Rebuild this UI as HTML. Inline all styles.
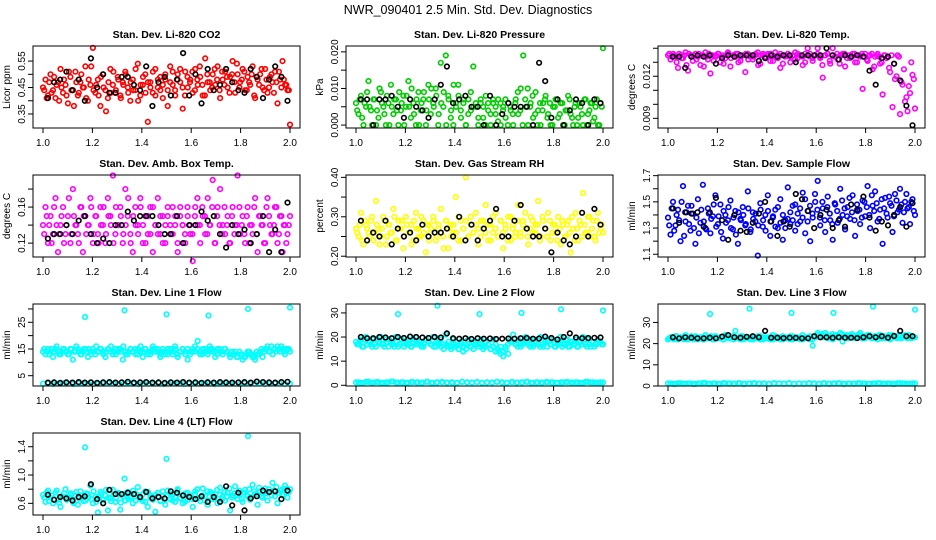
<!DOCTYPE html>
<html><head><meta charset="utf-8">
<style>
html,body{margin:0;padding:0;background:#fff;}
svg{display:block;font-family:"Liberation Sans",sans-serif;}
</style></head>
<body>
<svg id="chart" width="936" height="540" viewBox="0 0 936 540" xmlns="http://www.w3.org/2000/svg">
<rect x="0" y="0" width="936" height="540" fill="#fff"/>
<text x="468" y="14" text-anchor="middle" font-size="12.5">NWR_090401  2.5 Min. Std. Dev. Diagnostics</text>
</svg>
<script>
// ---------- data ----------
const xTicks=[1.0,1.2,1.4,1.6,1.8,2.0];
const xTickLabels=["1.0","1.2","1.4","1.6","1.8","2.0"];

const co2Red=[0.45,0.48,0.42,0.50,0.44,0.41,0.47,0.52,0.43,0.46,0.39,0.49,0.44,0.51,0.42,0.47,0.45,0.53,0.40,0.46,0.60,0.43,0.48,0.38,0.50,0.44,0.41,0.52,0.46,0.43,0.49,0.42,0.47,0.51,0.45,0.40,0.48,0.44,0.54,0.42,0.46,0.50,0.32,0.47,0.43,0.52,0.45,0.49,0.41,0.48,0.44,0.53,0.46,0.42,0.50,0.47,0.37,0.51,0.45,0.48,0.43,0.52,0.46,0.49,0.42,0.56,0.47,0.44,0.50,0.46,0.53,0.41,0.48,0.51,0.45,0.49,0.55,0.43,0.50,0.47,0.52,0.44,0.49,0.46,0.53,0.41,0.48,0.50,0.45,0.52,0.43,0.49,0.47,0.51,0.39,0.48,0.55,0.46,0.44,0.31];
const co2Red2=[0.44,0.41,0.47,0.43,0.49,0.46,0.40,0.45,0.48,0.42,0.51,0.44,0.38,0.47,0.43,0.50,0.45,0.41,0.48,0.53,0.44,0.46,0.42,0.49,0.45,0.36,0.47,0.43,0.51,0.44,0.48,0.41,0.46,0.50,0.43,0.47,0.44,0.52,0.40,0.46,0.49,0.43,0.47,0.45,0.51,0.42,0.48,0.44,0.46,0.50,0.38,0.47,0.51,0.44,0.48,0.52,0.45,0.42,0.49,0.47,0.51,0.44,0.48,0.53,0.46,0.42,0.50,0.47,0.45,0.52,0.48,0.44,0.51,0.46,0.49,0.43,0.50,0.47,0.54,0.45,0.48,0.51,0.44,0.47,0.50,0.42,0.49,0.46,0.52,0.44,0.48,0.45,0.50,0.43,0.47,0.51,0.45,0.48,0.46,0.44];
const co2Black=[0.41,0.47,0.48,0.51,0.44,0.48,0.40,0.56,0.45,0.50,0.43,0.43,0.49,0.49,0.46,0.44,0.53,0.38,0.47,0.49,0.42,0.48,0.58,0.42,0.50,0.39,0.52,0.44,0.46,0.52,0.47,0.44,0.43,0.52,0.49,0.41,0.48,0.53,0.49,0.40];

const presGreen=[0.006,0.003,0.008,0.000,0.005,0.012,0.004,0.007,0.000,0.002,0.009,0.005,0.000,0.006,0.011,0.003,0.007,0.000,0.004,0.008,0.005,0.012,0.002,0.006,0.000,0.009,0.004,0.007,0.000,0.011,0.003,0.006,0.010,0.000,0.017,0.005,0.019,0.008,0.002,0.000,0.006,0.011,0.004,0.007,0.000,0.003,0.009,0.016,0.005,0.000,0.006,0.002,0.008,0.004,0.000,0.006,0.003,0.007,0.000,0.005,0.002,0.006,0.004,0.000,0.007,0.003,0.010,0.019,0.005,0.000,0.006,0.002,0.009,0.004,0.000,0.006,0.008,0.003,0.000,0.005,0.007,0.002,0.006,0.000,0.004,0.008,0.003,0.000,0.006,0.002,0.005,0.000,0.007,0.003,0.006,0.001,0.005,0.000,0.006,0.021];
const presGreen2=[0.004,0.007,0.002,0.006,0.009,0.005,0.000,0.007,0.004,0.010,0.006,0.003,0.008,0.000,0.005,0.007,0.004,0.009,0.006,0.000,0.008,0.005,0.010,0.003,0.007,0.000,0.006,0.009,0.004,0.007,0.010,0.005,0.008,0.003,0.006,0.009,0.000,0.007,0.004,0.011,0.005,0.008,0.002,0.006,0.000,0.007,0.004,0.005,0.006,0.002,0.007,0.005,0.000,0.006,0.003,0.007,0.005,0.001,0.006,0.004,0.007,0.000,0.005,0.003,0.006,0.009,0.004,0.000,0.007,0.010,0.005,0.008,0.003,0.000,0.006,0.004,0.007,0.002,0.006,0.000,0.005,0.007,0.003,0.006,0.000,0.004,0.007,0.002,0.005,0.000,0.006,0.003,0.007,0.000,0.004,0.006,0.002,0.007,0.000,0.005];
const presBlack=[0.007,0.007,0.000,0.007,0.007,0.008,0.005,0.002,0.007,0.005,0.004,0.002,0.007,0.011,0.016,0.006,0.007,0.008,0.005,0.005,0.000,0.008,0.000,0.003,0.006,0.005,0.005,0.005,0.000,0.017,0.012,0.002,0.007,0.000,0.004,0.007,0.006,0.000,0.007,0.006];

const tempMagenta=[0.0135,0.0132,0.0136,0.0134,0.0126,0.0135,0.0133,0.0137,0.0124,0.0135,0.0131,0.0136,0.0134,0.0128,0.0135,0.0137,0.0132,0.0122,0.0135,0.0134,0.0136,0.0130,0.0135,0.0133,0.0137,0.0127,0.0135,0.0134,0.0136,0.0131,0.0135,0.0123,0.0136,0.0134,0.0132,0.0135,0.0137,0.0129,0.0135,0.0134,0.0136,0.0131,0.0135,0.0137,0.0133,0.0126,0.0135,0.0134,0.0136,0.0130,0.0135,0.0137,0.0133,0.0135,0.0128,0.0136,0.0140,0.0134,0.0131,0.0135,0.0140,0.0133,0.0119,0.0135,0.0136,0.0129,0.0140,0.0134,0.0132,0.0135,0.0136,0.0127,0.0135,0.0133,0.0136,0.0130,0.0135,0.0134,0.0111,0.0136,0.0131,0.0135,0.0125,0.0134,0.0136,0.0129,0.0107,0.0135,0.0134,0.0123,0.0098,0.0118,0.0135,0.0093,0.0114,0.0102,0.0095,0.0108,0.0121,0.0097];
const tempMagenta2=[0.0136,0.0134,0.0135,0.0130,0.0136,0.0133,0.0135,0.0128,0.0136,0.0134,0.0135,0.0132,0.0136,0.0135,0.0127,0.0134,0.0136,0.0135,0.0131,0.0135,0.0136,0.0134,0.0129,0.0135,0.0136,0.0133,0.0135,0.0136,0.0130,0.0134,0.0135,0.0136,0.0132,0.0135,0.0134,0.0136,0.0128,0.0135,0.0136,0.0133,0.0135,0.0136,0.0131,0.0134,0.0135,0.0136,0.0129,0.0135,0.0136,0.0134,0.0135,0.0132,0.0136,0.0135,0.0134,0.0130,0.0135,0.0136,0.0133,0.0135,0.0136,0.0134,0.0128,0.0135,0.0136,0.0131,0.0135,0.0134,0.0136,0.0129,0.0135,0.0136,0.0133,0.0135,0.0134,0.0136,0.0130,0.0135,0.0136,0.0134,0.0132,0.0135,0.0136,0.0127,0.0135,0.0134,0.0130,0.0135,0.0133,0.0126,0.0135,0.0129,0.0120,0.0134,0.0116,0.0125,0.0105,0.0113,0.0130,0.0118];
const tempBlack=[0.0134,0.0134,0.0126,0.0134,0.0135,0.0134,0.0135,0.0129,0.0133,0.0135,0.0134,0.0135,0.0135,0.0135,0.0131,0.0133,0.0135,0.0134,0.0135,0.0135,0.0130,0.0135,0.0135,0.0135,0.0135,0.0140,0.0135,0.0132,0.0135,0.0134,0.0135,0.0134,0.0124,0.0114,0.0133,0.0134,0.0129,0.0117,0.0099,0.0085];

const ambMagenta=[0.14,0.16,0.12,0.15,0.13,0.17,0.11,0.14,0.16,0.13,0.15,0.12,0.18,0.14,0.13,0.16,0.11,0.15,0.14,0.17,0.12,0.15,0.13,0.16,0.14,0.12,0.17,0.15,0.195,0.13,0.14,0.16,0.12,0.18,0.15,0.13,0.11,0.16,0.14,0.17,0.12,0.15,0.13,0.16,0.11,0.14,0.17,0.13,0.15,0.12,0.16,0.14,0.13,0.15,0.11,0.16,0.14,0.12,0.15,0.13,0.10,0.16,0.14,0.12,0.15,0.13,0.17,0.14,0.19,0.12,0.16,0.18,0.14,0.13,0.15,0.12,0.16,0.14,0.195,0.13,0.15,0.12,0.16,0.14,0.13,0.17,0.11,0.15,0.14,0.12,0.17,0.14,0.13,0.16,0.12,0.15,0.11,0.14,0.13,0.15];
const ambMagenta2=[0.13,0.15,0.14,0.12,0.16,0.14,0.13,0.15,0.12,0.14,0.17,0.13,0.15,0.14,0.12,0.16,0.15,0.13,0.14,0.16,0.13,0.15,0.12,0.14,0.16,0.13,0.15,0.14,0.12,0.16,0.14,0.15,0.13,0.14,0.17,0.12,0.15,0.14,0.13,0.16,0.14,0.12,0.15,0.13,0.16,0.14,0.13,0.15,0.12,0.14,0.15,0.13,0.16,0.14,0.12,0.15,0.14,0.13,0.16,0.14,0.13,0.15,0.17,0.14,0.16,0.15,0.13,0.14,0.16,0.12,0.15,0.14,0.13,0.16,0.14,0.12,0.15,0.13,0.14,0.16,0.14,0.13,0.15,0.12,0.14,0.16,0.13,0.15,0.14,0.12,0.16,0.15,0.13,0.14,0.16,0.13,0.15,0.14,0.12,0.14];
const ambBlack=[0.125,0.13,0.13,0.14,0.13,0.145,0.15,0.13,0.12,0.125,0.12,0.14,0.14,0.155,0.145,0.15,0.15,0.15,0.14,0.13,0.13,0.15,0.12,0.14,0.14,0.155,0.145,0.15,0.13,0.115,0.14,0.13,0.135,0.12,0.13,0.15,0.11,0.135,0.11,0.165];

const rhYellow=[0.27,0.25,0.31,0.23,0.28,0.26,0.29,0.24,0.34,0.27,0.25,0.30,0.23,0.28,0.26,0.32,0.24,0.29,0.27,0.22,0.30,0.26,0.28,0.24,0.31,0.27,0.25,0.29,0.21,0.28,0.26,0.30,0.24,0.27,0.32,0.25,0.29,0.22,0.28,0.26,0.35,0.24,0.29,0.27,0.40,0.25,0.30,0.26,0.28,0.23,0.29,0.27,0.33,0.24,0.28,0.26,0.31,0.25,0.29,0.22,0.27,0.30,0.24,0.28,0.26,0.33,0.25,0.29,0.27,0.23,0.30,0.26,0.28,0.34,0.25,0.29,0.27,0.31,0.24,0.28,0.26,0.30,0.23,0.28,0.25,0.29,0.21,0.27,0.31,0.24,0.28,0.36,0.26,0.30,0.25,0.29,0.24,0.31,0.27,0.26];
const rhYellow2=[0.26,0.28,0.24,0.29,0.27,0.25,0.30,0.26,0.28,0.23,0.27,0.29,0.25,0.28,0.26,0.30,0.24,0.27,0.29,0.25,0.28,0.26,0.23,0.29,0.27,0.25,0.30,0.26,0.28,0.24,0.27,0.29,0.25,0.28,0.26,0.22,0.29,0.27,0.25,0.28,0.26,0.30,0.24,0.27,0.29,0.25,0.28,0.26,0.31,0.27,0.25,0.29,0.26,0.28,0.24,0.30,0.27,0.25,0.29,0.26,0.28,0.24,0.30,0.27,0.25,0.29,0.26,0.28,0.31,0.25,0.27,0.29,0.26,0.28,0.24,0.30,0.27,0.25,0.29,0.26,0.28,0.24,0.27,0.29,0.25,0.28,0.26,0.30,0.24,0.27,0.29,0.25,0.28,0.26,0.30,0.27,0.25,0.29,0.26,0.28];
const rhBlack=[0.29,0.24,0.26,0.25,0.29,0.23,0.27,0.25,0.26,0.24,0.28,0.25,0.26,0.26,0.27,0.25,0.30,0.24,0.28,0.24,0.27,0.29,0.32,0.25,0.25,0.29,0.33,0.27,0.25,0.25,0.27,0.21,0.26,0.24,0.23,0.25,0.31,0.25,0.32,0.28];

const flowBlue=[1.38,1.25,1.50,1.32,1.44,1.20,1.62,1.35,1.47,1.28,1.41,1.18,1.52,1.34,1.63,1.30,1.45,1.26,1.39,1.55,1.33,1.48,1.22,1.40,1.36,1.51,1.29,1.43,1.18,1.37,1.46,1.32,1.58,1.27,1.42,1.35,1.09,1.49,1.31,1.40,1.55,1.24,1.38,1.44,1.30,1.52,1.21,1.36,1.61,1.33,1.47,1.28,1.41,1.35,1.57,1.26,1.43,1.20,1.38,1.50,1.66,1.32,1.45,1.27,1.54,1.36,1.21,1.48,1.34,1.60,1.40,1.29,1.46,1.37,1.55,1.24,1.43,1.33,1.51,1.39,1.62,1.30,1.47,1.58,1.35,1.44,1.18,1.53,1.38,1.49,1.27,1.56,1.42,1.60,1.34,1.50,1.45,1.33,1.52,1.40];
const flowBlue2=[1.32,1.45,1.28,1.40,1.36,1.50,1.24,1.42,1.33,1.47,1.30,1.38,1.26,1.44,1.35,1.29,1.41,1.37,1.48,1.31,1.39,1.27,1.43,1.34,1.46,1.30,1.38,1.25,1.42,1.36,1.40,1.33,1.45,1.29,1.37,1.41,1.32,1.44,1.36,1.28,1.43,1.35,1.39,1.31,1.46,1.34,1.40,1.30,1.37,1.42,1.36,1.48,1.33,1.45,1.38,1.52,1.35,1.47,1.41,1.56,1.44,1.38,1.50,1.36,1.46,1.41,1.33,1.49,1.43,1.37,1.51,1.45,1.39,1.53,1.42,1.36,1.48,1.44,1.38,1.50,1.46,1.40,1.55,1.43,1.49,1.37,1.52,1.45,1.41,1.54,1.47,1.39,1.51,1.44,1.48,1.42,1.56,1.46,1.50,1.43];
const flowBlack=[1.45,1.34,1.42,1.41,1.42,1.31,1.42,1.53,1.36,1.21,1.40,1.28,1.27,1.34,1.41,1.50,1.35,1.24,1.35,1.31,1.56,1.52,1.43,1.30,1.40,1.44,1.30,1.36,1.31,1.48,1.44,1.54,1.38,1.28,1.35,1.32,1.40,1.46,1.31,1.49];

const line1Band=[14,13,15,14,12,15,14,13,15,14,13,15,11,14,15,13,14,15,12,14,15,13,14,15,14,12,15,14,13,15,14,15,11,14,13,15,14,15,13,14,12,15,14,13,15,14,15,12,14,13,15,14,13,15,12,14,15,13,11,14,15,14,18,13,15,14,13,15,14,12,15,14,13,15,14,12,13,14,12,13,11,12,14,13,12,11,13,14,12,15,16,14,13,15,16,14,15,13,15,14];
const line1Band2=[15,14,13,15,14,16,13,14,15,14,13,15,14,16,14,13,15,14,15,13,14,16,14,15,13,14,15,16,14,13,15,14,16,13,14,15,14,13,15,16,14,15,13,14,16,15,14,13,15,14,13,15,14,16,13,14,15,14,15,13,14,16,15,14,13,15,14,16,15,14,13,15,14,15,14,13,14,13,12,14,13,12,13,14,13,12,14,13,15,14,15,14,16,15,14,15,16,14,15,15];
const line1Low=[2.0,2.1,1.9,2.0,2.2,2.0,1.9,2.1,2.0,2.0,1.9,2.1,2.0,2.2,2.0,1.9,2.0,2.1,2.0,1.9,2.1,2.0,2.0,2.2,1.9,2.0,2.1,2.0,1.9,2.0,2.1,2.0,2.2,2.0,1.9,2.0,2.1,2.0,2.0,1.9,2.1,2.0,2.0,2.2,1.9,2.0,2.1,2.0,1.9,2.0];
const line1Black=[2.4,2.5,2.3,2.5,2.4,2.6,2.4,2.5,2.3,2.5,2.6,2.4,2.5,2.7,2.4,2.5,2.6,2.4,2.5,2.3,2.5,2.4,2.6,2.4,2.5,2.3,2.5,2.4,2.6,2.5,2.4,2.5,2.6,2.4,2.8,2.6,2.5,2.4,2.6,2.7];
const line1OutX=[1.17,1.33,1.50,1.67,1.83,2.00];
const line1OutY=[27,29.5,28,27.5,30,30.5];

const line2Band=[18,17,19,16,20,18,17,19,16,18,20,17,19,16,18,17,20,16,19,18,17,19,16,18,20,17,18,16,19,18,17,20,16,18,19,17,21,18,16,19,17,15,18,14,17,19,16,15,18,17,19,16,18,17,15,19,17,14,16,12,15,13,18,21,17,19,16,18,20,17,19,16,18,17,20,16,19,18,17,19,16,18,20,17,19,16,18,17,19,16,18,20,17,19,16,18,17,19,18,17];
const line2Band2=[17,18,16,19,17,18,16,17,19,18,17,16,18,19,17,16,18,17,19,16,18,17,16,19,17,18,16,17,19,18,17,16,18,17,16,15,17,16,15,17,16,15,17,16,15,17,16,18,17,16,17,15,16,17,15,16,14,15,13,14,16,17,19,18,17,16,18,17,19,18,16,17,18,19,16,17,18,16,17,19,16,17,18,16,17,19,16,18,17,16,18,17,19,16,17,18,16,17,18,17];
const line2Low=[1.2,1.0,1.4,1.1,1.3,1.0,1.2,1.5,1.1,1.2,1.0,1.3,1.2,1.1,1.4,1.0,1.2,1.3,1.1,1.2,1.0,1.4,1.2,1.1,1.3,1.0,1.2,1.1,1.4,1.2,1.0,1.3,1.1,1.2,1.4,1.0,1.2,1.1,1.3,1.2,1.0,1.2,1.3,1.1,1.2,1.0,1.4,1.2,1.1,1.2];
const line2Black=[20,19.5,19.5,20,19.8,19.5,20,19.6,20.2,20,19.8,19.6,20,19.8,21.5,19.5,19.3,19.5,19.2,19.5,19.3,19.4,19.2,19.3,19.4,19.3,19.5,19.6,19.3,19.4,20.2,19.6,19,20,21.5,19.8,19.5,19.6,19.7,19.8];
const line2OutX=[1.17,1.33,1.50,1.67,1.83,2.00];
const line2OutY=[29.5,33,29.5,30,31.5,31];

const line3Band=[22,23,22.5,23.5,22,23,22.5,24,22,23,22.5,23.5,22,23,22,24,22.5,23,22,23.5,22.5,23,22,24,23,22.5,23.5,26,23,22,23.5,22.5,23,22,23,22.5,23.5,22,23,22.5,23,22,24,22.5,23,22,23.5,22.5,23,22,23.5,22.5,23,22,24,22.5,23,22,19,23,25,24,23,25,22.5,23.5,22,24,23,25,21,23.5,22.5,24,23,22.5,24,25,23.5,22.5,24,23,22.5,23.5,22,24,23,22.5,23.5,22,24,23,22.5,23.5,23,24,22.5,23,23.5,23];
const line3Band2=[22.5,23,22,23.5,22.5,23,22,23,22.5,23.5,22,23,22.5,23,22,23,22.5,23.5,22,23,22.5,23,22,23.5,22.5,23,22,23,22.5,23.5,22,23,22.5,23,22,23,22.5,23.5,22,23,22.5,23,22,23.5,22.5,23,22,23,22.5,23.5,22,23,22.5,23,22,23,22.5,23.5,22,23,24,23,24.5,23.5,24,23,24.5,23.5,24,23,24.5,23.5,24,23,24.5,23.5,23,24,22.5,23.5,23,24,22.5,23.5,23,24,22.5,23.5,23,24,22.5,23.5,23,24,22.5,23.5,23,24,22.5,23];
const line3Low=[1.2,1.0,1.3,1.1,1.2,1.0,1.2,1.4,1.1,1.2,1.0,1.3,1.2,1.1,1.3,1.0,1.2,1.3,1.1,1.2,1.0,1.3,1.2,1.1,1.3,1.0,1.2,1.1,1.3,1.2,1.0,1.3,1.1,1.2,1.3,1.0,1.2,1.1,1.3,1.2,1.0,1.2,1.3,1.1,1.2,1.0,1.3,1.2,1.1,1.2];
const line3Black=[23,22.5,23,22.8,22.5,22.5,22.8,22.5,23.3,24,23,22.8,23.2,23.5,23,26,22.8,22.8,22.6,22.8,22.7,22.5,22.5,23.5,23,23,22.8,23,22.8,22.8,22.6,23,23.5,23,23.5,22.8,23.6,26,23.5,23.5];
const line3OutX=[1.17,1.33,1.50,1.67,1.83,2.00];
const line3OutY=[34,36.5,34.5,34.5,37.5,36];

const line4Cyan=[0.72,0.62,0.78,0.68,0.60,0.75,0.65,0.55,0.70,0.80,0.66,0.74,0.62,0.71,0.58,0.77,0.68,0.64,0.73,0.85,0.60,0.69,0.47,0.76,0.65,0.71,0.50,0.67,0.79,0.62,0.73,0.51,0.70,0.64,0.76,0.68,0.60,0.74,0.83,0.66,0.63,0.77,0.55,0.71,0.69,0.48,0.75,0.64,0.70,0.58,0.78,0.66,0.72,0.62,0.80,0.68,0.60,0.74,0.65,0.71,0.55,0.77,0.67,0.63,0.81,0.70,0.58,0.76,0.66,0.73,0.60,0.82,0.69,0.64,0.75,0.50,0.71,0.84,0.66,0.74,0.62,0.79,0.70,0.65,0.86,0.73,0.58,0.77,0.68,0.81,0.64,0.76,0.89,0.70,0.60,0.78,0.72,0.85,0.68,0.80];
const line4Cyan2=[0.68,0.75,0.63,0.71,0.66,0.78,0.61,0.70,0.74,0.65,0.69,0.72,0.60,0.76,0.67,0.71,0.63,0.74,0.69,0.66,0.77,0.62,0.70,0.73,0.65,0.79,0.68,0.63,0.72,0.67,0.75,0.61,0.70,0.74,0.66,0.69,0.78,0.64,0.71,0.67,0.73,0.62,0.76,0.68,0.65,0.72,0.70,0.63,0.77,0.66,0.71,0.74,0.64,0.69,0.78,0.67,0.72,0.62,0.75,0.69,0.66,0.73,0.80,0.68,0.71,0.64,0.77,0.70,0.74,0.67,0.79,0.72,0.66,0.76,0.70,0.81,0.68,0.74,0.71,0.78,0.66,0.75,0.72,0.80,0.69,0.77,0.73,0.82,0.70,0.76,0.74,0.80,0.71,0.78,0.83,0.75,0.79,0.72,0.81,0.76];
const line4Black=[0.72,0.65,0.69,0.67,0.64,0.69,0.70,0.87,0.66,0.60,0.79,0.73,0.73,0.75,0.73,0.69,0.76,0.67,0.69,0.67,0.77,0.75,0.71,0.69,0.66,0.70,0.62,0.69,0.62,0.84,0.57,0.75,0.50,0.67,0.70,0.78,0.76,0.77,0.66,0.78];
const line4OutX=[1.17,1.33,1.50,1.83];
const line4OutY=[1.39,0.95,1.23,1.55];

// ---------- panels ----------
const H1=1.005, H2=1.995; // interleaved sample window for second cloud
const panels=[
 {name:"co2",title:"Stan. Dev. Li-820 CO2",ylab:"Licor ppm",col:0,row:0,lo:0.297,hi:0.607,ticks:[0.35,0.40,0.45,0.50,0.55],labels:["0.35","","0.45","","0.55"],
  series:[{y:co2Red,c:"#ff0000"},{y:co2Red2,c:"#ff0000",a:H1,b:H2},{y:co2Black,c:"#000",a:1.02,b:1.99}]},
 {name:"pressure",title:"Stan. Dev. Li-820 Pressure",ylab:"kPa",col:1,row:0,lo:-0.0008,hi:0.0216,ticks:[0,0.005,0.010,0.015,0.020],labels:["0.000","","0.010","","0.020"],
  series:[{y:presGreen,c:"#00cd00"},{y:presGreen2,c:"#00cd00",a:H1,b:H2},{y:presBlack,c:"#000",a:1.02,b:1.99}]},
 {name:"li820-temp",title:"Stan. Dev. Li-820 Temp.",ylab:"degrees C",col:2,row:0,lo:0.00831,hi:0.01416,ticks:[0.009,0.010,0.011,0.012,0.013,0.014],labels:["0.009","","","0.012","",""],
  series:[{y:tempMagenta,c:"#ff00ff"},{y:tempMagenta2,c:"#ff00ff",a:H1,b:H2},{y:tempBlack,c:"#000",a:1.02,b:1.99}]},
 {name:"amb-box-temp",title:"Stan. Dev. Amb. Box Temp.",ylab:"degrees C",col:0,row:1,lo:0.1046,hi:0.1956,ticks:[0.12,0.14,0.16,0.18],labels:["0.12","","0.16",""],
  series:[{y:ambMagenta,c:"#ff00ff"},{y:ambMagenta2,c:"#ff00ff",a:H1,b:H2},{y:ambBlack,c:"#000",a:1.02,b:1.99}]},
 {name:"gas-rh",title:"Stan. Dev. Gas Stream RH",ylab:"percent",col:1,row:1,lo:0.198,hi:0.406,ticks:[0.20,0.25,0.30,0.35,0.40],labels:["0.20","","0.30","","0.40"],
  series:[{y:rhYellow,c:"#ffff00"},{y:rhYellow2,c:"#ffff00",a:H1,b:H2},{y:rhBlack,c:"#000",a:1.02,b:1.99}]},
 {name:"sample-flow",title:"Stan. Dev. Sample Flow",ylab:"ml/min",col:2,row:1,lo:1.079,hi:1.705,ticks:[1.1,1.2,1.3,1.4,1.5,1.6,1.7],labels:["1.1","","1.3","","1.5","","1.7"],
  series:[{y:flowBlue,c:"#0000ff"},{y:flowBlue2,c:"#0000ff",a:H1,b:H2},{y:flowBlack,c:"#000",a:1.02,b:1.99}]},
 {name:"line1-flow",title:"Stan. Dev. Line 1 Flow",ylab:"ml/min",col:0,row:2,lo:1.14,hi:31.85,ticks:[5,10,15,20,25,30],labels:["5","","15","","25",""],
  series:[{y:line1Band,c:"#00ffff"},{y:line1Band2,c:"#00ffff",a:H1,b:H2},{y:line1Low,c:"#00ffff"},{x:line1OutX,y:line1OutY,c:"#00ffff"},{y:line1Black,c:"#000",a:1.02,b:1.99}]},
 {name:"line2-flow",title:"Stan. Dev. Line 2 Flow",ylab:"ml/min",col:1,row:2,lo:-0.3,hi:33.7,ticks:[0,10,20,30],labels:["0","10","20","30"],
  series:[{y:line2Band,c:"#00ffff"},{y:line2Band2,c:"#00ffff",a:H1,b:H2},{y:line2Low,c:"#00ffff"},{y:line2Low,c:"#00ffff",a:1.01,b:1.99},{x:line2OutX,y:line2OutY,c:"#00ffff"},{y:line2Black,c:"#000",a:1.02,b:1.99}]},
 {name:"line3-flow",title:"Stan. Dev. Line 3 Flow",ylab:"ml/min",col:2,row:2,lo:0,hi:38.7,ticks:[0,10,20,30],labels:["0","10","20","30"],
  series:[{y:line3Band,c:"#00ffff"},{y:line3Band2,c:"#00ffff",a:H1,b:H2},{y:line3Low,c:"#00ffff"},{y:line3Low,c:"#00ffff",a:1.01,b:1.99},{x:line3OutX,y:line3OutY,c:"#00ffff"},{y:line3Black,c:"#000",a:1.02,b:1.99}]},
 {name:"line4-flow",title:"Stan. Dev. Line 4 (LT) Flow",ylab:"ml/min",col:0,row:3,lo:0.435,hi:1.594,ticks:[0.6,0.8,1.0,1.2,1.4],labels:["0.6","","1.0","","1.4"],
  series:[{y:line4Cyan,c:"#00ffff"},{y:line4Cyan2,c:"#00ffff",a:H1,b:H2},{x:line4OutX,y:line4OutY,c:"#00ffff"},{y:line4Black,c:"#000",a:1.02,b:1.99}]}
];

const svg=document.getElementById('chart');
const NS="http://www.w3.org/2000/svg";
const COLX=[33,346,658], ROWY=[46,175,304,433], W=267, H=82;
function mk(tag,attrs,parent){const e=document.createElementNS(NS,tag);for(const k in attrs)e.setAttribute(k,attrs[k]);parent.appendChild(e);return e;}

panels.forEach(p=>{
  const L=COLX[p.col], T=ROWY[p.row];
  const sx=v=>L+10+(v-1)*(W-20);
  const sy=v=>T+(p.hi-v)/(p.hi-p.lo)*H;
  const g=mk('g',{},svg);
  
  
  const t=mk('text',{x:L+W/2,y:T-8,'text-anchor':'middle','font-size':'10.5','font-weight':'bold'},g);
  t.textContent=p.title;
  
  
  const yl=mk('text',{transform:`translate(${L-23},${T+H/2}) rotate(-90)`,'text-anchor':'middle','font-size':'10'},g);
  yl.textContent=p.ylab;
  
  
  p.series.forEach((s,si)=>{
    const sg=mk('g',{fill:'none',stroke:s.c,'stroke-width':'1.6'},g);
    
    
    const n=s.y.length;
    const a=s.a||1, b=s.b||2;
    s.y.forEach((v,i)=>{
      const xv=s.x?s.x[i]:(a+(b-a)*i/(n-1));
      const c=mk('circle',{cx:sx(xv).toFixed(1),cy:sy(v).toFixed(1),r:'2.3'},sg);
      
      
    });
  });
  const box=mk('rect',{x:L,y:T,width:W,height:H,fill:'none',stroke:'#000','stroke-width':'1'},g);
  
  
  xTicks.forEach((v,i)=>{
    const X=sx(v);
    mk('line',{x1:X,x2:X,y1:T+H,y2:T+H+5,stroke:'#000'},g);
    const tl=mk('text',{x:X,y:T+H+18,'text-anchor':'middle','font-size':'10'},g);
    tl.textContent=xTickLabels[i];
    
    
  });
  p.ticks.forEach((v,i)=>{
    const Y=sy(v);
    mk('line',{x1:L-5,x2:L,y1:Y,y2:Y,stroke:'#000'},g);
    if(p.labels[i]){
      const tl=mk('text',{transform:`translate(${L-8},${Y}) rotate(-90)`,'text-anchor':'middle','font-size':'10'},g);
      tl.textContent=p.labels[i];
      
      
    }
  });
});
</script>
</body></html>
